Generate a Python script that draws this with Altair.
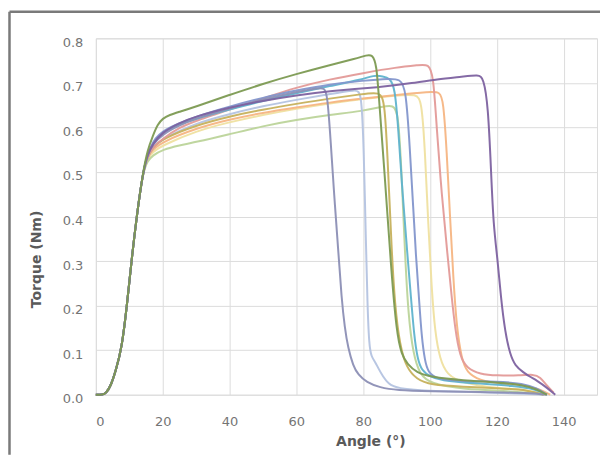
import altair as alt
import pandas as pd

# shared initial rise (all curves overlap here)
rise_angle = [0, 2, 3, 4.5, 6, 7.8, 9.3, 10.8, 12.3, 14.1]
rise_torque = [0, 0, 0.003, 0.02, 0.055, 0.106, 0.2, 0.31, 0.405, 0.5]

# light yellow
s11_angle = [15.5, 17, 20, 30, 40, 50, 60, 70, 80, 90, 96, 97.5, 98.5, 99.5, 100.5, 101.5, 103, 105, 110, 120, 130, 135]
s11_torque = [0.53, 0.545, 0.56, 0.592, 0.612, 0.628, 0.642, 0.654, 0.664, 0.672, 0.675, 0.66, 0.55, 0.38, 0.24, 0.14, 0.08, 0.045, 0.025, 0.015, 0.01, 0.0]
# light orange
s10_angle = [15.5, 17, 20, 30, 40, 50, 60, 70, 80, 90, 100, 103, 104, 105, 106, 107, 108, 109.5, 111, 115, 120, 128, 133, 136]
s10_torque = [0.535, 0.55, 0.568, 0.598, 0.618, 0.633, 0.645, 0.656, 0.665, 0.673, 0.68, 0.68, 0.66, 0.55, 0.4, 0.26, 0.15, 0.08, 0.05, 0.032, 0.026, 0.022, 0.012, 0.0]
# light green
s09_angle = [15.5, 17, 20, 25, 30, 40, 50, 60, 70, 80, 86, 89, 90.5, 91.5, 92.5, 93.5, 95, 97, 100, 110, 125, 134]
s09_torque = [0.525, 0.537, 0.55, 0.56, 0.567, 0.585, 0.603, 0.617, 0.628, 0.637, 0.647, 0.65, 0.635, 0.5, 0.32, 0.18, 0.09, 0.045, 0.025, 0.012, 0.008, 0.0]
# light grey-blue (hump)
s05_angle = [15.5, 17, 20, 30, 40, 50, 60, 70, 78, 79.5, 80.2, 80.8, 81.3, 81.8, 82.5, 83.5, 84.5, 86, 87.5, 90, 100, 120, 134]
s05_torque = [0.535, 0.555, 0.575, 0.61, 0.63, 0.648, 0.662, 0.675, 0.685, 0.68, 0.55, 0.35, 0.2, 0.11, 0.085, 0.075, 0.06, 0.04, 0.025, 0.014, 0.008, 0.005, 0.0]
# olive yellow
s08_angle = [15.5, 17, 20, 30, 40, 50, 60, 70, 80, 85, 86.5, 87.5, 88.5, 89.5, 91, 93, 96, 100, 110, 120, 130, 134]
s08_torque = [0.535, 0.555, 0.575, 0.605, 0.625, 0.64, 0.653, 0.665, 0.675, 0.68, 0.66, 0.5, 0.33, 0.2, 0.11, 0.06, 0.035, 0.022, 0.018, 0.015, 0.01, 0.0]
# pink
s02_angle = [15.5, 17, 20, 25, 30, 40, 50, 60, 70, 80, 90, 97, 99.5, 101, 102, 103.5, 105.3, 106.5, 107.5, 109, 111, 115, 120, 127, 131, 133, 135, 137]
s02_torque = [0.535, 0.555, 0.575, 0.6, 0.615, 0.64, 0.665, 0.69, 0.708, 0.722, 0.735, 0.74, 0.742, 0.72, 0.6, 0.45, 0.31, 0.22, 0.15, 0.085, 0.06, 0.046, 0.043, 0.043, 0.046, 0.04, 0.02, 0.005]
# cyan
s06_angle = [15.5, 17, 20, 25, 30, 40, 50, 60, 70, 80, 83, 86, 88, 89.5, 90.5, 91.8, 93.3, 94.3, 95.3, 96.3, 97.5, 100, 105, 115, 125, 132, 135]
s06_torque = [0.54, 0.565, 0.59, 0.607, 0.62, 0.64, 0.66, 0.677, 0.693, 0.708, 0.717, 0.715, 0.71, 0.69, 0.6, 0.45, 0.31, 0.22, 0.13, 0.08, 0.055, 0.04, 0.03, 0.025, 0.02, 0.012, 0.0]
# blue lavender
s07_angle = [15.5, 17, 20, 30, 40, 50, 60, 70, 80, 88, 91, 92.8, 94, 95, 95.8, 96.7, 97.5, 98.5, 99.5, 102, 110, 120, 128, 132, 135]
s07_torque = [0.54, 0.568, 0.595, 0.625, 0.647, 0.667, 0.683, 0.697, 0.705, 0.71, 0.708, 0.69, 0.55, 0.42, 0.31, 0.22, 0.13, 0.075, 0.05, 0.035, 0.03, 0.03, 0.025, 0.015, 0.0]
# grey lavender (earliest drop)
s04_angle = [15.5, 17, 20, 25, 30, 40, 50, 60, 66, 68.5, 69.3, 70.2, 71.3, 72.7, 73.5, 74.5, 75.5, 77, 78.5, 81, 85, 90, 100, 115, 130, 135]
s04_torque = [0.54, 0.562, 0.585, 0.605, 0.62, 0.643, 0.663, 0.68, 0.688, 0.69, 0.67, 0.58, 0.45, 0.31, 0.22, 0.15, 0.105, 0.065, 0.045, 0.028, 0.016, 0.01, 0.008, 0.006, 0.004, 0.0]
# purple
s03_angle = [15.5, 17, 20, 25, 30, 40, 50, 60, 70, 85, 95, 102, 110, 114.5, 116, 117.4, 118.3, 119, 120.3, 121.2, 122.5, 124, 125.5, 128, 130, 132, 135, 137.5]
s03_torque = [0.54, 0.563, 0.59, 0.61, 0.625, 0.645, 0.66, 0.672, 0.682, 0.69, 0.7, 0.708, 0.714, 0.718, 0.712, 0.65, 0.5, 0.38, 0.3, 0.22, 0.14, 0.09, 0.065, 0.05, 0.04, 0.032, 0.016, 0.0]
# green (highest)
s01_angle = [15.5, 17, 18.5, 20, 22, 25, 30, 40, 50, 60, 70, 78, 81, 82.8, 84, 84.6, 86.4, 88.4, 90, 91.5, 93.3, 96, 100, 110, 120, 128, 132, 135]
s01_torque = [0.55, 0.58, 0.607, 0.62, 0.628, 0.635, 0.647, 0.673, 0.698, 0.72, 0.74, 0.755, 0.762, 0.764, 0.74, 0.68, 0.5, 0.28, 0.14, 0.09, 0.068, 0.05, 0.04, 0.032, 0.028, 0.022, 0.012, 0.0]

series = [
    ("a11", s11_angle, s11_torque, "#efe0a0"),
    ("a10", s10_angle, s10_torque, "#f5b583"),
    ("a09", s09_angle, s09_torque, "#bcd49a"),
    ("a08", s05_angle, s05_torque, "#b4c3e0"),
    ("a07", s08_angle, s08_torque, "#c6b15c"),
    ("a06", s02_angle, s02_torque, "#e39a98"),
    ("a05", s06_angle, s06_torque, "#5fb3cd"),
    ("a04", s07_angle, s07_torque, "#8396cc"),
    ("a03", s04_angle, s04_torque, "#8c8fb5"),
    ("a02", s03_angle, s03_torque, "#7d62a0"),
    ("a01", s01_angle, s01_torque, "#7c9a52"),
]

rows = []
for name, ang, tq, _ in series:
    for a, t in zip(rise_angle + ang, rise_torque + tq):
        rows.append({"run": name, "angle": a, "torque": t})
df = pd.DataFrame(rows)

names = [s[0] for s in series]
colors = [s[3] for s in series]

W, H = 502, 357

lines = alt.Chart(df).mark_line(strokeWidth=2, interpolate="basis", opacity=0.95).encode(
    x=alt.X("angle:Q", scale=alt.Scale(domain=[0, 150], nice=False, zero=False),
            axis=alt.Axis(values=[0, 20, 40, 60, 80, 100, 120, 140], grid=True, gridColor="#dcdcdc",
                          domain=False, ticks=False, labelPadding=21, labelFont="DejaVu Sans",
                          labelFontSize=13, labelColor="#747474", title="Angle (°)",
                          titleFont="DejaVu Sans", titleFontSize=14, titleFontWeight="bold",
                          titleColor="#5a5a5a", titleX=275, titleY=47, titleBaseline="middle",
                          titleAlign="center")),
    y=alt.Y("torque:Q", scale=alt.Scale(domain=[0, 0.8], nice=False),
            axis=alt.Axis(values=[0, 0.1, 0.2, 0.3, 0.4, 0.5, 0.6, 0.7, 0.8], format=".1f", grid=True,
                          gridColor="#dcdcdc", domain=False, ticks=False, labelPadding=13,
                          labelOffset=4,
                          labelFont="DejaVu Sans", labelFontSize=13, labelColor="#747474",
                          title="Torque (Nm)", titleFont="DejaVu Sans", titleFontSize=14,
                          titleFontWeight="bold", titleColor="#5a5a5a", titleX=-59, titleY=221,
                          titleBaseline="middle", titleAlign="center")),
    color=alt.Color("run:N", scale=alt.Scale(domain=names, range=colors), legend=None),
    order=alt.Order("angle:Q"),
)

frame_df = pd.DataFrame({"k": [0]})
left_edge = alt.Chart(frame_df).mark_rule(color="#7a7a7a", strokeWidth=2.5).encode(
    x=alt.value(-86.5), y=alt.value(-26.5), y2=alt.value(417))
top_edge = alt.Chart(frame_df).mark_rule(color="#7a7a7a", strokeWidth=2.5).encode(
    x=alt.value(-86.5), x2=alt.value(505), y=alt.value(-26.5))

chart = alt.layer(lines, left_edge, top_edge).properties(
    width=W, height=H, padding={"left": 0, "top": 2, "right": 0, "bottom": 0},
    background="white",
).configure_view(stroke="#dcdcdc")

chart.save("out.html", embed_options={"renderer": "svg", "actions": False})
